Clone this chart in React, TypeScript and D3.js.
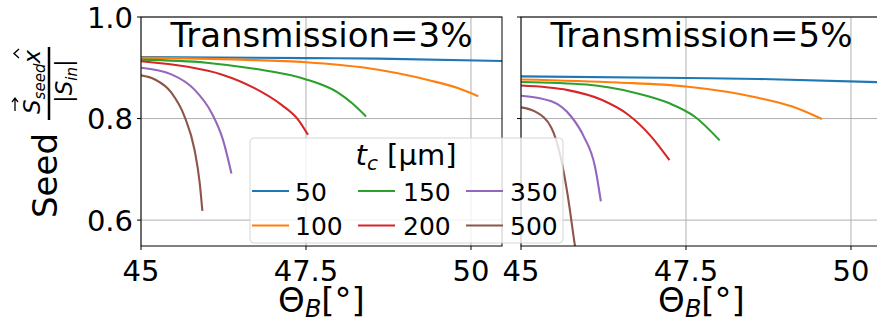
import React from "react";
import * as d3 from "d3";

// thickness values (µm) and tab10 colours
const thickness = [50, 100, 150, 200, 350, 500];
const colors = ["#1f77b4", "#ff7f0e", "#2ca02c", "#d62728", "#9467bd", "#8c564b"];

// Transmission = 3 %, [theta, seed]
const t3_50 = [[45, 0.921], [47.5, 0.919], [48.6, 0.918], [50.6, 0.913]];
const t3_100 = [[45, 0.920], [46.5, 0.916], [47.5, 0.911], [48.4, 0.900], [49.38, 0.875], [49.8, 0.860], [50.11, 0.844]];
const t3_150 = [[45, 0.916], [45.99, 0.910], [46.72, 0.898], [47.48, 0.878], [47.985, 0.851], [48.2, 0.830], [48.41, 0.804]];
const t3_200 = [[45, 0.913], [45.71, 0.902], [46.22, 0.887], [46.72, 0.860], [47.13, 0.827], [47.38, 0.798], [47.53, 0.768]];
const t3_350 = [[45, 0.900], [45.46, 0.887], [45.81, 0.857], [46.07, 0.811], [46.24, 0.759], [46.37, 0.692]];
const t3_500 = [[45, 0.885], [45.21, 0.877], [45.46, 0.851], [45.66, 0.804], [45.81, 0.739], [45.89, 0.673], [45.93, 0.618]];

// Transmission = 5 %
const t5_50 = [[45, 0.883], [47.5, 0.880], [48.6, 0.878], [50.6, 0.871]];
const t5_100 = [[45, 0.877], [46.47, 0.871], [47.5, 0.863], [48.59, 0.841], [49.1, 0.824], [49.56, 0.799]];
const t5_150 = [[45, 0.872], [45.99, 0.867], [46.72, 0.851], [47.23, 0.831], [47.63, 0.804], [48.01, 0.757]];
const t5_200 = [[45, 0.865], [45.71, 0.856], [46.22, 0.837], [46.62, 0.808], [46.97, 0.765], [47.25, 0.718]];
const t5_350 = [[45, 0.845], [45.46, 0.834], [45.76, 0.804], [45.95, 0.765], [46.12, 0.706], [46.21, 0.637]];
const t5_500 = [[45, 0.822], [45.21, 0.814], [45.46, 0.782], [45.61, 0.719], [45.71, 0.647], [45.81, 0.556], [45.84, 0.53]];

const panels = [
  { title: "Transmission=3%", series: [t3_50, t3_100, t3_150, t3_200, t3_350, t3_500] },
  { title: "Transmission=5%", series: [t5_50, t5_100, t5_150, t5_200, t5_350, t5_500] },
];

const xTicks = [45, 47.5, 50];
const xTickLabels = ["45", "47.5", "50"];
const yTicks = [0.6, 0.8, 1.0];
const yTickLabels = ["0.6", "0.8", "1.0"];

const W = 877, H = 323;
const top = 17, bottom = 246, panelW = 361;
const lefts = [141, 521];
const font = "DejaVu Sans, sans-serif";

const y = d3.scaleLinear().domain([0.549, 1.0]).range([bottom, top]);

function Panel({ idx }: { idx: number }) {
  const p = panels[idx];
  const x0 = lefts[idx];
  const x = d3.scaleLinear().domain([45, 50.47]).range([x0, x0 + panelW]);
  const line = d3
    .line<number[]>()
    .x((d) => x(d[0]))
    .y((d) => y(d[1]))
    .curve(d3.curveMonotoneX);
  const clipId = "clip" + idx;
  return (
    <g>
      <defs>
        <clipPath id={clipId}>
          <rect x={x0} y={top} width={panelW} height={bottom - top} />
        </clipPath>
      </defs>
      {xTicks.map((t) => (
        <line key={"gx" + t} x1={x(t)} x2={x(t)} y1={top} y2={bottom} stroke="#b0b0b0" strokeWidth={1} />
      ))}
      {yTicks.map((t) => (
        <line key={"gy" + t} x1={x0} x2={x0 + panelW} y1={y(t)} y2={y(t)} stroke="#b0b0b0" strokeWidth={1} />
      ))}
      <g clipPath={`url(#${clipId})`}>
        {p.series.map((s, i) => (
          <path key={i} d={line(s) || ""} fill="none" stroke={colors[i]} strokeWidth={2.1} />
        ))}
      </g>
      <rect x={x0} y={top} width={panelW} height={bottom - top} fill="none" stroke="#000" strokeWidth={1} />
      {xTicks.map((t, i) => (
        <g key={"tx" + t}>
          <line x1={x(t)} x2={x(t)} y1={bottom} y2={bottom + 4} stroke="#000" strokeWidth={1} />
          <text x={x(t)} y={281} textAnchor="middle" fontSize={29} fontFamily={font}>
            {xTickLabels[i]}
          </text>
        </g>
      ))}
      {yTicks.map((t, i) => (
        <g key={"ty" + t}>
          <line x1={x0 - 4} x2={x0} y1={y(t)} y2={y(t)} stroke="#000" strokeWidth={1} />
          {idx === 0 && (
            <text x={x0 - 8} y={y(t) + 10.5} textAnchor="end" fontSize={29} fontFamily={font}>
              {yTickLabels[i]}
            </text>
          )}
        </g>
      ))}
      <text x={x0 + panelW / 2} y={46.5} textAnchor="middle" fontSize={34} fontFamily={font}>
        {p.title}
      </text>
      <text x={x0 + panelW / 2} y={312} textAnchor="middle" fontSize={34} fontFamily={font}>
        Θ<tspan fontStyle="italic" fontSize={24} dy={5}>B</tspan>
        <tspan dy={-5}>[°]</tspan>
      </text>
    </g>
  );
}

function Legend() {
  const cols = [
    { hx: 252, tx: 295 },
    { hx: 358, tx: 403 },
    { hx: 466, tx: 510 },
  ];
  const rows = [191, 225.5];
  return (
    <g>
      <rect x={250} y={138} width={313} height={105} rx={4} fill="#fff" fillOpacity={0.8} stroke="#cccccc" strokeOpacity={0.8} />
      <text x={406} y={165} textAnchor="middle" fontSize={29} fontFamily={font}>
        <tspan fontStyle="italic">t</tspan>
        <tspan fontStyle="italic" fontSize={20} dy={5}>c</tspan>
        <tspan dy={-5}> [µm]</tspan>
      </text>
      {thickness.map((t, i) => {
        const c = cols[Math.floor(i / 2)];
        const ry = rows[i % 2];
        return (
          <g key={t}>
            <line x1={c.hx} x2={c.hx + 37} y1={ry} y2={ry} stroke={colors[i]} strokeWidth={2.1} />
            <text x={c.tx} y={ry + 9.5} fontSize={25} fontFamily={font}>
              {t}
            </text>
          </g>
        );
      })}
    </g>
  );
}

function YLabel() {
  // rotated frame: local x runs upward on screen
  return (
    <g transform="translate(57,132) rotate(-90)" fontFamily={font}>
      <text x={-86} y={0} fontSize={34}>Seed</text>
      <line x1={12} x2={85} y1={-8} y2={-8} stroke="#000" strokeWidth={2.5} />
      <text x={18} y={-17} fontSize={23}>
        <tspan fontStyle="italic">S</tspan>
        <tspan fontStyle="italic" fontSize={15} dy={5}>seed</tspan>
        <tspan fontStyle="italic" dy={-5}>x</tspan>
      </text>
      {/* vector arrow over S */}
      <path d="M21,-42 L34,-42 M30,-45 L34,-42 L30,-39" fill="none" stroke="#000" strokeWidth={1.3} />
      {/* hat over x */}
      <path d="M74,-38 L78.5,-43 L83,-38" fill="none" stroke="#000" strokeWidth={1.4} />
      <text x={29} y={15} fontSize={23}>
        |<tspan fontStyle="italic">S</tspan>
        <tspan fontStyle="italic" fontSize={15} dy={5}>in</tspan>
        <tspan dy={-5}>|</tspan>
      </text>
    </g>
  );
}

export default function App() {
  return (
    <svg width={W} height={H} style={{ position: "absolute", left: 0, top: 0, background: "#fff" }}>
      <rect width={W} height={H} fill="#fff" />
      <YLabel />
      <Panel idx={0} />
      <Panel idx={1} />
      <Legend />
    </svg>
  );
}
